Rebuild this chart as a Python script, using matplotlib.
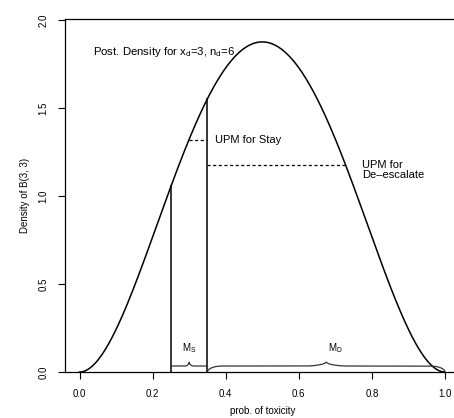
import numpy as np
import matplotlib
matplotlib.use("Agg")
import matplotlib.pyplot as plt

# posterior Beta(3, 3) and interval bounds
a_post = 3
b_post = 3
interval_bounds = [0.25, 0.35]
upm_stay = 1.3166
upm_deesc = 1.1767
brace_ranges = [(0.25, 0.35), (0.35, 1.0)]
brace_labels = [r"M$_\mathregular{S}$", r"M$_\mathregular{D}$"]
brace_label_x = [0.30, 0.70]
x_ticks = [0.0, 0.2, 0.4, 0.6, 0.8, 1.0]
y_ticks = [0.0, 0.5, 1.0, 1.5, 2.0]

plt.rcParams['font.family'] = ['Liberation Sans', 'DejaVu Sans']
plt.rcParams['mathtext.fontset'] = 'custom'
plt.rcParams['mathtext.rm'] = 'Liberation Sans'
plt.rcParams['mathtext.it'] = 'Liberation Sans'


def beta_pdf(x, a, b):
    # normalising constant for integer a, b
    from math import factorial
    c = factorial(a + b - 1) / (factorial(a - 1) * factorial(b - 1))
    return c * x ** (a - 1) * (1 - x) ** (b - 1)


def brace(x0, x1, end, pw, h=0.034, peak=0.025, n=600):
    xs = np.linspace(x0, x1, n)
    ys = np.full_like(xs, h)
    if end > 0:
        left = xs < x0 + end
        ys[left] = h * np.sqrt(1 - ((x0 + end - xs[left]) / end) ** 2)
        right = xs > x1 - end
        ys[right] = h * np.sqrt(1 - ((xs[right] - (x1 - end)) / end) ** 2)
    mid = (x0 + x1) / 2
    d = np.abs(xs - mid)
    bump = d < pw
    ys[bump] += peak * (1 - np.sqrt(1 - ((pw - d[bump]) / pw) ** 2))
    return xs, ys


fig = plt.figure(figsize=(4.54, 4.18), dpi=100)
ax = fig.add_axes([0.1432, 0.110, 0.869, 0.8445])

x = np.linspace(0, 1, 500)
y = beta_pdf(x, a_post, b_post)
ax.plot(x, y, color='black', lw=1.1)

# vertical lines at interval bounds
for b in interval_bounds:
    ax.plot([b, b], [0, beta_pdf(b, a_post, b_post)], color='black', lw=1.1)

# UPM dotted lines
xl = 0.5 - np.sqrt(0.25 - np.sqrt(upm_stay / 30))
ax.plot([xl, interval_bounds[1]], [upm_stay, upm_stay], color='black', lw=0.9, ls=(0, (2.5, 2)))
xr = 0.5 + np.sqrt(0.25 - np.sqrt(upm_deesc / 30))
ax.plot([interval_bounds[1], xr], [upm_deesc, upm_deesc], color='black', lw=0.9, ls=(0, (2.5, 2)))

# braces
brace_ends = [0.0, 0.04]
brace_bumps = [0.012, 0.06]
for (x0, x1), lab, lx, e, pw in zip(brace_ranges, brace_labels, brace_label_x,
                                     brace_ends, brace_bumps):
    bx, by = brace(x0, x1, e, pw)
    ax.plot(bx, by, color='#333333', lw=0.9)
    ax.text(lx, 0.135, lab, fontsize=7, ha='center', va='center')

ax.text(0.036, 1.82, r"Post. Density for x$_d$=3, n$_d$=6", fontsize=8.2,
        ha='left', va='center')
ax.text(0.37, 1.32, "UPM for Stay", fontsize=8, ha='left', va='center')
ax.text(0.773, 1.15, "UPM for\nDe\u2013escalate", fontsize=8, ha='left',
        va='center', linespacing=1.0)

ax.set_xlim(-0.04, 1.04)
ax.set_ylim(0, 2.005)
ax.set_xticks(x_ticks)
ax.set_xticklabels([f"{t:.1f}" for t in x_ticks], fontsize=7)
ax.set_yticks(y_ticks)
ax.set_yticklabels([f"{t:.1f}" for t in y_ticks], fontsize=7, rotation=90,
                   va='center')
ax.tick_params(direction='out', length=5, width=0.8, pad=7)
ax.set_xlabel("prob. of toxicity", fontsize=7, labelpad=5)
ax.set_ylabel("Density of B(3, 3)", fontsize=7, labelpad=6)
for s in ax.spines.values():
    s.set_linewidth(0.9)

fig.savefig("out.png", dpi=100)
